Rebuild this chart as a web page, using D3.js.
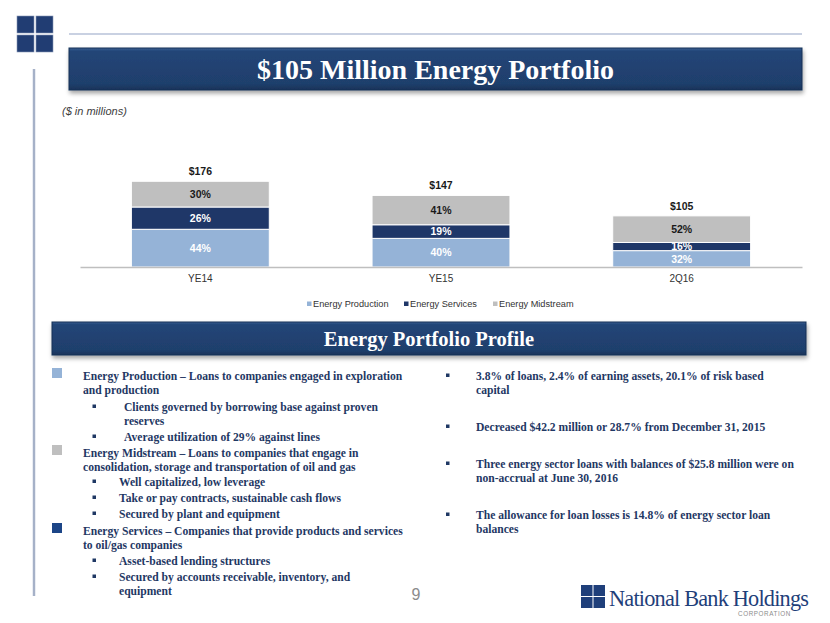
<!DOCTYPE html>
<html>
<head>
<meta charset="utf-8">
<script src="https://cdn.jsdelivr.net/npm/d3@7"></script>
<style>
  html, body { margin: 0; padding: 0; background: #ffffff; }
  svg { display: block; }
</style>
</head>
<body>
<svg id="chart" width="830" height="623"></svg>
<script>
// ---------------- data ----------------
const categories = ["YE14", "YE15", "2Q16"];
const totals = [176, 147, 105];
const productionPct = [44, 40, 32];
const servicesPct = [26, 19, 16];
const midstreamPct = [30, 41, 52];
const seriesNames = ["Energy Production", "Energy Services", "Energy Midstream"];
const seriesColors = ["#95b3d7", "#1f3768", "#bfbfbf"];
const labelColors = ["#ffffff", "#ffffff", "#1a1a1a"];

const titleText = "$105 Million Energy Portfolio";
const subtitleText = "($ in millions)";
const profileTitle = "Energy Portfolio Profile";

const leftItems = [
  { type: "main", color: "#95b3d7", lines: ["Energy Production \u2013 Loans to companies engaged in exploration", "and production"] },
  { type: "sub", indent: 124, lines: ["Clients governed by borrowing base against proven", "reserves"] },
  { type: "sub", indent: 124, lines: ["Average utilization of 29% against lines"] },
  { type: "main", color: "#bfbfbf", lines: ["Energy Midstream \u2013 Loans to companies that engage in", "consolidation, storage and transportation of oil and gas"] },
  { type: "sub", indent: 119, lines: ["Well capitalized, low leverage"] },
  { type: "sub", indent: 119, lines: ["Take or pay contracts, sustainable cash flows"] },
  { type: "sub", indent: 119, lines: ["Secured by plant and equipment"] },
  { type: "main", color: "#1c4587", lines: ["Energy Services \u2013 Companies that provide products and services", "to oil/gas companies"] },
  { type: "sub", indent: 119, lines: ["Asset-based lending structures"] },
  { type: "sub", indent: 119, lines: ["Secured by accounts receivable, inventory, and", "equipment"] }
];
const leftItemY = [376, 407, 437, 453, 482, 498, 514, 531, 561, 577];

const rightItems = [
  ["3.8% of loans, 2.4% of earning assets, 20.1% of risk based", "capital"],
  ["Decreased $42.2 million or 28.7% from December 31, 2015"],
  ["Three energy sector loans with balances of $25.8 million were on", "non-accrual at June 30, 2016"],
  ["The allowance for loan losses is 14.8% of energy sector loan", "balances"]
];
const rightItemY = [376, 427, 464, 515];

// ---------------- drawing ----------------
const svg = d3.select("#chart");
const defs = svg.append("defs");

const grad = defs.append("linearGradient").attr("id", "bannerGrad")
  .attr("x1", 0).attr("y1", 0).attr("x2", 0).attr("y2", 1);
grad.append("stop").attr("offset", "0%").attr("stop-color", "#3a5f92");
grad.append("stop").attr("offset", "8%").attr("stop-color", "#224577");
grad.append("stop").attr("offset", "85%").attr("stop-color", "#1f3f6c");
grad.append("stop").attr("offset", "100%").attr("stop-color", "#183359");

const shadow = defs.append("filter").attr("id", "shadow")
  .attr("x", "-5%").attr("y", "-20%").attr("width", "110%").attr("height", "150%");
shadow.append("feDropShadow").attr("dx", 1).attr("dy", 3).attr("stdDeviation", 2)
  .attr("flood-color", "#000").attr("flood-opacity", 0.35);

const vgrad = defs.append("linearGradient").attr("id", "vlineGrad")
  .attr("x1", 0).attr("y1", 0).attr("x2", 1).attr("y2", 0);
vgrad.append("stop").attr("offset", "0%").attr("stop-color", "#d5dbe7");
vgrad.append("stop").attr("offset", "50%").attr("stop-color", "#8e9cb8");
vgrad.append("stop").attr("offset", "100%").attr("stop-color", "#d5dbe7");

// top-left logo
const logo = svg.append("g");
[[17, 16], [36, 16], [17, 35], [36, 35]].forEach(([x, y]) => {
  logo.append("rect").attr("x", x).attr("y", y).attr("width", 17).attr("height", 17)
    .attr("fill", "#213d73").attr("stroke", "#8896b5").attr("stroke-width", 0.6);
});

// decorative lines
svg.append("rect").attr("x", 69).attr("y", 33).attr("width", 733).attr("height", 2)
  .attr("fill", "#c9d1e2");
svg.append("rect").attr("x", 32.5).attr("y", 69).attr("width", 3).attr("height", 527)
  .attr("fill", "url(#vlineGrad)");

// banners
function banner(x, y, w, h, text, size) {
  const g = svg.append("g");
  g.append("rect").attr("x", x).attr("y", y).attr("width", w).attr("height", h)
    .attr("fill", "url(#bannerGrad)").attr("stroke", "#173057").attr("stroke-width", 1)
    .attr("filter", "url(#shadow)");
  g.append("text").attr("x", x + w / 2).attr("y", y + h / 2)
    .attr("dy", "0.35em").attr("text-anchor", "middle")
    .attr("font-family", "'Liberation Serif', 'Times New Roman', serif")
    .attr("font-weight", "bold").attr("font-size", size).attr("fill", "#ffffff")
    .text(text);
}
banner(69, 48, 733, 42, titleText, 28);
banner(52, 322, 754, 33, profileTitle, 20.5);

// subtitle
svg.append("text").attr("x", 62).attr("y", 115)
  .attr("font-family", "'Liberation Sans', Arial, sans-serif")
  .attr("font-style", "italic").attr("font-size", 11).attr("fill", "#404040")
  .text(subtitleText);

// ----- chart -----
const rows = categories.map((c, i) => ({
  category: c,
  total: totals[i],
  "Energy Production": totals[i] * productionPct[i] / 100,
  "Energy Services": totals[i] * servicesPct[i] / 100,
  "Energy Midstream": totals[i] * midstreamPct[i] / 100
}));
const pcts = { "Energy Production": productionPct, "Energy Services": servicesPct, "Energy Midstream": midstreamPct };

const x = d3.scaleBand().domain(categories).range([80, 802])
  .paddingInner(0.427).paddingOuter(0.2135);
const y = d3.scaleLinear().domain([0, 200]).range([267, 169.6]);
const color = d3.scaleOrdinal().domain(seriesNames).range(seriesColors);
const lcolor = d3.scaleOrdinal().domain(seriesNames).range(labelColors);

const stacked = d3.stack().keys(seriesNames)(rows);

const chart = svg.append("g");
const layers = chart.selectAll("g.layer").data(stacked).join("g").attr("class", "layer")
  .attr("fill", d => color(d.key));
layers.selectAll("rect").data(d => d).join("rect")
  .attr("x", d => x(d.data.category))
  .attr("width", x.bandwidth())
  .attr("y", d => y(d[1]))
  .attr("height", d => y(d[0]) - y(d[1]))
  .attr("stroke", "#ffffff").attr("stroke-width", 1);

layers.each(function (layer) {
  d3.select(this).selectAll("text").data(layer).join("text")
    .attr("x", d => x(d.data.category) + x.bandwidth() / 2)
    .attr("y", d => (y(d[0]) + y(d[1])) / 2)
    .attr("dy", "0.36em")
    .attr("text-anchor", "middle")
    .attr("font-family", "'Liberation Sans', Arial, sans-serif")
    .attr("font-weight", "bold").attr("font-size", 10.5)
    .attr("fill", lcolor(layer.key))
    .text((d, i) => pcts[layer.key][i] + "%");
});

// totals
chart.selectAll("text.total").data(rows).join("text").attr("class", "total")
  .attr("x", d => x(d.category) + x.bandwidth() / 2)
  .attr("y", d => y(d.total) - 6)
  .attr("text-anchor", "middle")
  .attr("font-family", "'Liberation Sans', Arial, sans-serif")
  .attr("font-weight", "bold").attr("font-size", 10.5).attr("fill", "#1a1a1a")
  .text(d => "$" + d.total);

// axis
const axis = chart.append("g").attr("transform", "translate(0,267)")
  .call(d3.axisBottom(x).tickSize(0).tickPadding(8));
axis.select(".domain").attr("stroke", "#bfbfbf").attr("stroke-width", 1.5);
axis.selectAll(".tick text")
  .attr("font-family", "'Liberation Sans', Arial, sans-serif")
  .attr("font-size", 10).attr("fill", "#333333");

// legend
const legendX = [307, 404, 493];
const legend = chart.selectAll("g.leg").data(seriesNames).join("g").attr("class", "leg")
  .attr("transform", (d, i) => `translate(${legendX[i]},304)`);
legend.append("rect").attr("x", 0).attr("y", -2.5).attr("width", 4.5).attr("height", 4.5)
  .attr("fill", d => color(d));
legend.append("text").attr("x", 6).attr("dy", "0.35em")
  .attr("font-family", "'Liberation Sans', Arial, sans-serif")
  .attr("font-size", 9.2).attr("fill", "#333333")
  .text(d => d);

// ----- text blocks -----
const textColor = "#1f3864";
const serif = "'Liberation Serif', 'Times New Roman', serif";
const lineH = 14;
const tg = svg.append("g").attr("font-family", serif).attr("font-weight", "bold")
  .attr("font-size", 11.6).attr("fill", textColor);

leftItems.forEach((item, i) => {
  const y0 = leftItemY[i];
  if (item.type === "main") {
    tg.append("rect").attr("x", 52).attr("y", y0 - 8).attr("width", 10).attr("height", 10)
      .attr("fill", item.color);
    item.lines.forEach((ln, k) => {
      tg.append("text").attr("x", 83).attr("y", y0 + k * lineH).attr("dy", "0.33em").text(ln);
    });
  } else {
    tg.append("rect").attr("x", 92.5).attr("y", y0 - 2.5).attr("width", 3.5).attr("height", 3.5)
      .attr("fill", textColor);
    item.lines.forEach((ln, k) => {
      tg.append("text").attr("x", item.indent).attr("y", y0 + k * lineH).attr("dy", "0.33em").text(ln);
    });
  }
});

rightItems.forEach((lines, i) => {
  const y0 = rightItemY[i];
  tg.append("rect").attr("x", 446).attr("y", y0 - 2.5).attr("width", 3.5).attr("height", 3.5)
    .attr("fill", textColor);
  lines.forEach((ln, k) => {
    tg.append("text").attr("x", 476).attr("y", y0 + k * lineH).attr("dy", "0.33em").text(ln);
  });
});

// page number
svg.append("text").attr("x", 416).attr("y", 600).attr("text-anchor", "middle")
  .attr("font-family", "'Liberation Sans', Arial, sans-serif")
  .attr("font-size", 16).attr("fill", "#8c8c8c").text("9");

// bottom-right logo
const bl = svg.append("g");
[[581, 585], [593.5, 585], [581, 597], [593.5, 597]].forEach(([lx, ly]) => {
  bl.append("rect").attr("x", lx).attr("y", ly).attr("width", 11.5).attr("height", 11)
    .attr("fill", "#1f3f7a");
});
bl.append("text").attr("x", 609).attr("y", 606)
  .attr("font-family", serif).attr("font-size", 22.3).attr("fill", "#1f3f7a")
  .attr("letter-spacing", -0.8)
  .text("National Bank Holdings");
bl.append("text").attr("x", 738).attr("y", 616)
  .attr("font-family", "'Liberation Sans', Arial, sans-serif").attr("font-size", 6.3)
  .attr("letter-spacing", 0.6).attr("fill", "#8c8c8c")
  .text("CORPORATION");
</script>
</body>
</html>
